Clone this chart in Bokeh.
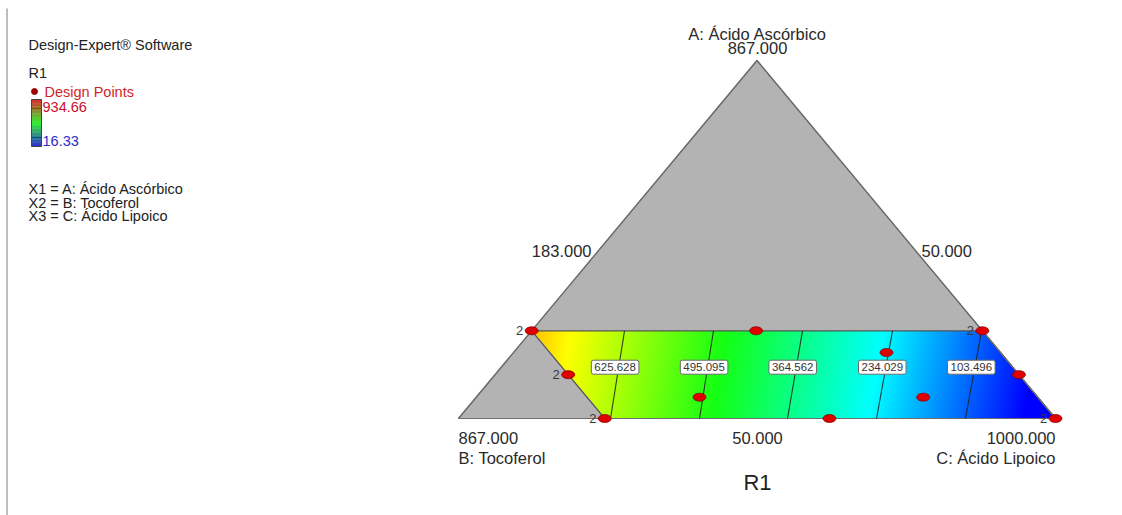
import numpy as np
from bokeh.plotting import figure
from bokeh.models import Range1d, Label
from bokeh.embed import file_html
from bokeh.resources import INLINE

# ---------------- data ----------------
response_name = "R1"
resp_min, resp_max = 16.33, 934.66
contour_levels = [625.628, 495.095, 364.562, 234.029, 103.496]
# contour line ends, given as fraction of C on the upper constraint (A = A_MAX) and on the B-C edge (A = 0)
contour_c_top = [0.1556, 0.3046, 0.4537, 0.6045, 0.7536]
contour_c_bottom = [0.2546, 0.4037, 0.5511, 0.7002, 0.8492]
A_MAX = 0.245   # upper limit of A (fraction)
B_MAX = 0.755   # upper limit of B (fraction)

# design points (fractions of A and C; B = 1 - A - C) and replicate counts
design_a = [0.245, 0.245, 0.245, 0.1225, 0.1225, 0.0, 0.0, 0.0, 0.0595, 0.1844, 0.0595]
design_c = [0.0, 0.376, 0.755, 0.1225, 0.8775, 0.245, 0.6214, 1.0, 0.374, 0.6247, 0.7486]
design_reps = [2, 1, 2, 2, 1, 2, 1, 2, 1, 1, 1]

vertex_names = ["A: Ácido Ascórbico", "B: Tocoferol", "C: Ácido Lipoico"]
vertex_values = ["867.000", "867.000", "1000.000"]
edge_values = ["183.000", "50.000", "50.000"]  # left edge, right edge, bottom edge
legend_lines = ["X1 = A: Ácido Ascórbico", "X2 = B: Tocoferol", "X3 = C: Ácido Lipoico"]

# ---------------- layout ----------------
WIDTH, HEIGHT = 1122, 515
BX, BY = 458.0, 418.0     # pixel of vertex B
TW, TH = 597.0, 358.0     # triangle pixel width / height
FONT = "Liberation Sans"
LEG_SIZE = "14.5px"
CH_SIZE = "16.5px"


def dx(px):
    return (px - BX) / TW


def dy(py):
    return (BY - py) / TH


def tern(a, c):
    a = np.asarray(a, dtype=float)
    c = np.asarray(c, dtype=float)
    return c + a / 2.0, a


p = figure(width=WIDTH, height=HEIGHT, output_backend="svg", toolbar_location=None,
           x_range=Range1d(dx(0), dx(WIDTH)), y_range=Range1d(dy(HEIGHT), dy(0)),
           min_border=0)
p.xaxis.visible = False
p.yaxis.visible = False
p.grid.visible = False
p.outline_line_color = None
p.background_fill_color = "white"
p.border_fill_color = "white"

# left frame line
p.line([dx(6.5), dx(6.5)], [dy(8), dy(515)], line_color="#bdbdbd", line_width=2)

# full triangle (gray)
tx, ty = tern([1, 0, 0], [0, 0, 1])
p.patch(list(tx), list(ty), fill_color="#b3b3b3", line_color="#6e6e6e", line_width=1.2)

# ---------------- response field ----------------
def cmap(t):
    stops = np.array([0.0, 0.25, 0.5, 0.75, 1.0])
    r = np.interp(t, stops, [0, 0, 20, 255, 255])
    g = np.interp(t, stops, [0, 255, 255, 255, 0])
    b = np.interp(t, stops, [255, 255, 20, 0, 0])
    return r, g, b

nx, ny = 900, 140
X = np.linspace(0, 1, nx)
Y = np.linspace(0, A_MAX, ny)
XX, YY = np.meshgrid(X, Y)
a = YY
c = XX - a / 2.0
b = 1 - a - c
frac = a / A_MAX
lev = np.array(contour_levels)
ct = np.array(contour_c_top)
cb = np.array(contour_c_bottom)
vals = np.zeros_like(XX)
for j in range(ny):
    fj = frac[j, 0]
    xk = cb + fj * (ct - cb) + a[j, 0] / 2.0
    row = XX[j]
    v = np.interp(row, xk, lev)
    sl = (lev[0] - lev[1]) / (xk[1] - xk[0])
    sr = (lev[-2] - lev[-1]) / (xk[-1] - xk[-2])
    v = np.where(row < xk[0], lev[0] + (xk[0] - row) * sl, v)
    v = np.where(row > xk[-1], lev[-1] - (row - xk[-1]) * sr, v)
    vals[j] = v
vals = np.clip(vals, resp_min, resp_max)
t = (vals - resp_min) / (resp_max - resp_min)
r, g, bb = cmap(t)
inside = (b <= B_MAX + 1e-9) & (b >= -1e-9) & (c <= 1 + 1e-9)
img = np.zeros((ny, nx), dtype=np.uint32)
view = img.view(dtype=np.uint8).reshape((ny, nx, 4))
view[..., 0] = r.astype(np.uint8)
view[..., 1] = g.astype(np.uint8)
view[..., 2] = bb.astype(np.uint8)
view[..., 3] = np.where(inside, 255, 0).astype(np.uint8)
p.image_rgba(image=[img], x=0, y=0, dw=1, dh=A_MAX)

# region boundaries
rx, ry = tern([A_MAX, A_MAX, 0, 0], [0, 1 - A_MAX, 1, 1 - B_MAX])
p.patch(list(rx) + [rx[0]], list(ry) + [ry[0]], fill_color=None, line_color="#555555", line_width=1.2)
ox, oy = tern([1, 0, 0], [0, 0, 1])
p.patch(list(ox), list(oy), fill_color=None, line_color="#6e6e6e", line_width=1.2)

# contour lines
for k in range(len(contour_levels)):
    lx, ly = tern([A_MAX, 0], [contour_c_top[k], contour_c_bottom[k]])
    p.line(list(lx), list(ly), line_color="#1e1e1e", line_width=1.1, line_alpha=0.85)

# contour labels (placed on the lines)
lab_frac = 0.585
for k, lv in enumerate(contour_levels):
    aa = A_MAX * lab_frac
    cc = contour_c_bottom[k] + lab_frac * (contour_c_top[k] - contour_c_bottom[k])
    lx, ly = tern(aa, cc)
    p.add_layout(Label(x=float(lx) - 0.006, y=float(ly), text=f"{lv:.3f}", text_font=FONT,
                       text_font_size="11.5px", text_color="#333333", text_align="center",
                       text_baseline="middle", background_fill_color="white",
                       border_line_color="#6a6a6a", border_line_width=1, padding=3,
                       border_radius=2))

# design points
px_, py_ = tern(design_a, design_c)
p.ellipse(x=list(px_), y=list(py_), width=13 / TW, height=8 / TH,
          fill_color="#e00000", line_color="#8b0000", line_width=0.8)
for xi, yi, n in zip(px_, py_, design_reps):
    if n > 1:
        p.add_layout(Label(x=float(xi) - 12 / TW, y=float(yi), text=str(n), text_font=FONT,
                           text_font_size="13px", text_color="#3a3a3a", text_align="center",
                           text_baseline="middle"))

# vertex / edge labels
def lab(x, y, text, size=CH_SIZE, align="center", color="#2a2a2a"):
    p.add_layout(Label(x=x, y=y, text=text, text_font=FONT, text_font_size=size,
                       text_color=color, text_align=align, text_baseline="middle"))

lab(dx(757), dy(33), vertex_names[0])
lab(dx(757), dy(47), vertex_values[0])
lab(dx(458), dy(437), vertex_values[1], align="left")
lab(dx(458), dy(457), vertex_names[1], align="left")
lab(dx(1055), dy(437), vertex_values[2], align="right")
lab(dx(1055), dy(457), vertex_names[2], align="right")
lab(dx(591), dy(250), edge_values[0], align="right")
lab(dx(921), dy(250), edge_values[1], align="left")
lab(dx(757), dy(437), edge_values[2])
lab(dx(757), dy(482), response_name, size="22px", color="#222222")

# ---------------- legend ----------------
lab(dx(28), dy(44), "Design-Expert® Software", size=LEG_SIZE, align="left", color="#222222")
lab(dx(28), dy(72), response_name, size=LEG_SIZE, align="left", color="#222222")
p.scatter(x=[dx(34)], y=[dy(91)], size=6, marker="circle", fill_color="#9b0000", line_color="#9b0000")
lab(dx(44), dy(91), "Design Points", size=LEG_SIZE, align="left", color="#d01f2a")
# colour bar
ncb = 60
edges = np.linspace(dy(146), dy(99), ncb + 1)
tt = np.linspace(0, 1, ncb)
cr = np.interp(tt, [0, 0.5, 1], [0, 0, 210])
cg = np.interp(tt, [0, 0.5, 1], [0, 235, 0])
cbl = np.interp(tt, [0, 0.5, 1], [200, 0, 0])
cols = ["#%02x%02x%02x" % (int(a1), int(b1), int(c1)) for a1, b1, c1 in zip(cr, cg, cbl)]
p.quad(left=dx(31), right=dx(41), bottom=list(edges[:-1]), top=list(edges[1:]),
       fill_color=cols, line_color=None)
p.quad(left=[dx(31)], right=[dx(41)], bottom=[dy(146)], top=[dy(99)], fill_color=None,
       line_color="#444444", line_width=1)
lab(dx(42), dy(106), f"{resp_max:.2f}", size=LEG_SIZE, align="left", color="#c8102e")
lab(dx(42), dy(140), f"{resp_min:.2f}", size=LEG_SIZE, align="left", color="#2b2bc8")
for i, s in enumerate(legend_lines):
    lab(dx(28), dy(188.5 + 13.5 * i), s, size=LEG_SIZE, align="left", color="#222222")

open("out.html", "w").write(file_html(p, INLINE))
